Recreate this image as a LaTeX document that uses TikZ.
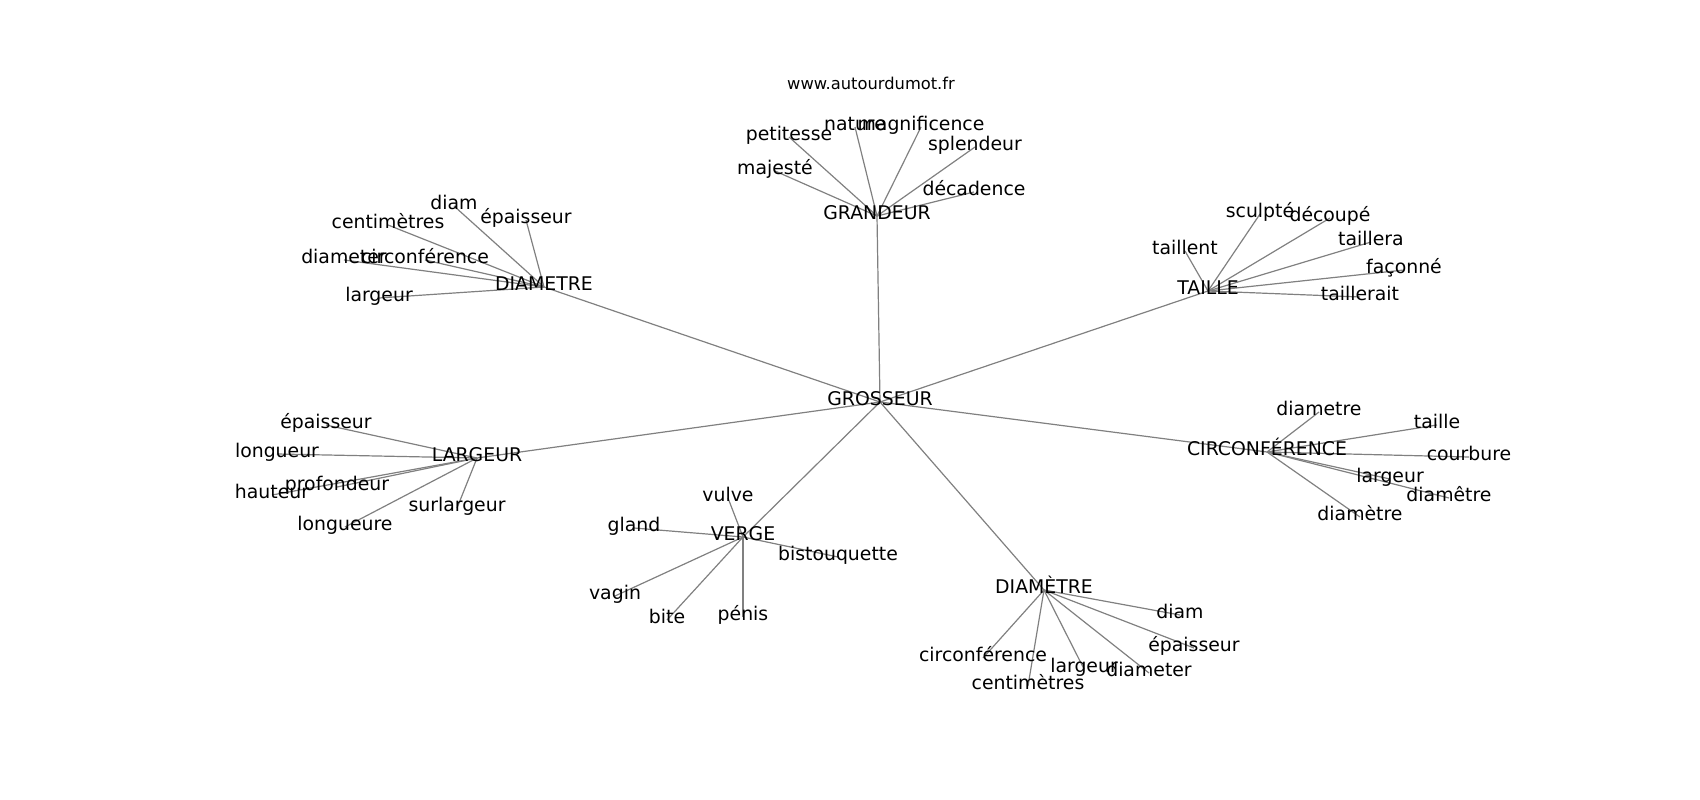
\documentclass[tikz,border=0pt]{standalone}
\usepackage{fontspec}
\setmainfont{DejaVu Sans}
\usetikzlibrary{backgrounds}
\tikzset{
  lbl/.style={inner sep=0pt, text height=0.72em, text depth=0pt, font=\fontsize{18.85}{22}\selectfont, text=black},
  ttl/.style={inner sep=0pt, text height=0.72em, text depth=0pt, font=\fontsize{16.3}{19}\selectfont, text=black},
  edge/.style={draw=gray, line width=1.2pt}
}
\begin{document}
\begin{tikzpicture}[x=1pt,y=-1pt]
\useasboundingbox (0,0) rectangle (1700,800);
\begin{scope}[yshift=-3pt]
\node[ttl] (title) at (871,83) {www.autourdumot.fr};
% hubs
\node[lbl] (gro) at (880,399) {GROSSEUR};
\node[lbl] (gra) at (877,213) {GRANDEUR};
\node[lbl] (dia) at (544,284) {DIAMETRE};
\node[lbl] (tai) at (1208,288) {TAILLE};
\node[lbl] (lar) at (477,455) {LARGEUR};
\node[lbl] (ver) at (743,534) {VERGE};
\node[lbl] (dib) at (1044,587) {DIAMÈTRE};
\node[lbl] (cir) at (1267,449) {CIRCONFÉRENCE};
% GRANDEUR
\node[lbl] (g1) at (789,134) {petitesse};
\node[lbl] (g2) at (855,124) {nature};
\node[lbl] (g3) at (921,124) {magnificence};
\node[lbl] (g4) at (975,144) {splendeur};
\node[lbl] (g5) at (775,168) {majesté};
\node[lbl] (g6) at (974,189) {décadence};
% DIAMETRE
\node[lbl] (d1) at (454,203) {diam};
\node[lbl] (d2) at (526,217) {épaisseur};
\node[lbl] (d3) at (388,222) {centimètres};
\node[lbl] (d4) at (344,257) {diameter};
\node[lbl] (d5) at (425,257) {circonférence};
\node[lbl] (d6) at (379,295) {largeur};
% TAILLE
\node[lbl] (t1) at (1185,248) {taillent};
\node[lbl] (t2) at (1260,211) {sculpté};
\node[lbl] (t3) at (1330,215) {découpé};
\node[lbl] (t4) at (1371,239) {taillera};
\node[lbl] (t5) at (1404,267) {façonné};
\node[lbl] (t6) at (1360,294) {taillerait};
% LARGEUR
\node[lbl] (l1) at (326,422) {épaisseur};
\node[lbl] (l2) at (277,451) {longueur};
\node[lbl] (l3) at (337,484) {profondeur};
\node[lbl] (l4) at (272,492) {hauteur};
\node[lbl] (l5) at (457,505) {surlargeur};
\node[lbl] (l6) at (345,524) {longueure};
% VERGE
\node[lbl] (v1) at (728,495) {vulve};
\node[lbl] (v2) at (634,525) {gland};
\node[lbl] (v3) at (838,554) {bistouquette};
\node[lbl] (v4) at (615,593) {vagin};
\node[lbl] (v5) at (667,617) {bite};
\node[lbl] (v6) at (743,614) {pénis};
% DIAMÈTRE
\node[lbl] (e1) at (1180,612) {diam};
\node[lbl] (e2) at (1194,645) {épaisseur};
\node[lbl] (e3) at (983,655) {circonférence};
\node[lbl] (e4) at (1084,666) {largeur};
\node[lbl] (e5) at (1149,670) {diameter};
\node[lbl] (e6) at (1028,683) {centimètres};
% CIRCONFÉRENCE
\node[lbl] (c1) at (1319,409) {diametre};
\node[lbl] (c2) at (1437,422) {taille};
\node[lbl] (c3) at (1469,454) {courbure};
\node[lbl] (c4) at (1390,476) {largeur};
\node[lbl] (c5) at (1449,495) {diamêtre};
\node[lbl] (c6) at (1360,514) {diamètre};
\end{scope}
\begin{scope}[on background layer]
\foreach \h in {gra,dia,tai,lar,ver,dib,cir}
  \draw[edge] (gro.center) -- (\h.center);
\foreach \c in {g1,g2,g3,g4,g5,g6} \draw[edge] (gra.center) -- (\c.center);
\foreach \c in {d1,d2,d3,d4,d5,d6} \draw[edge] (dia.center) -- (\c.center);
\foreach \c in {t1,t2,t3,t4,t5,t6} \draw[edge] (tai.center) -- (\c.center);
\foreach \c in {l1,l2,l3,l4,l5,l6} \draw[edge] (lar.center) -- (\c.center);
\foreach \c in {v1,v2,v3,v4,v5,v6} \draw[edge] (ver.center) -- (\c.center);
\foreach \c in {e1,e2,e3,e4,e5,e6} \draw[edge] (dib.center) -- (\c.center);
\foreach \c in {c1,c2,c3,c4,c5,c6} \draw[edge] (cir.center) -- (\c.center);
\end{scope}
\end{tikzpicture}
\end{document}
